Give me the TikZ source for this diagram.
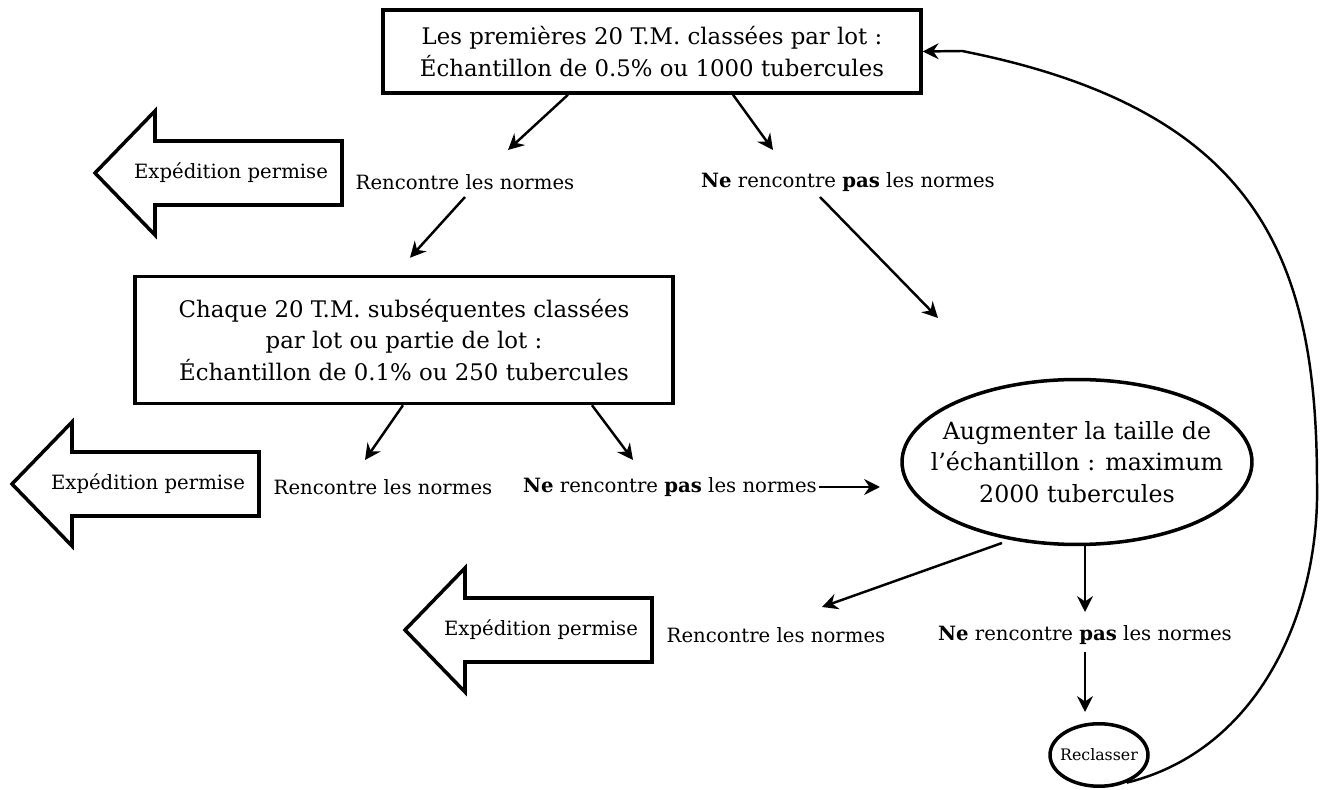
\documentclass[tikz,border=0pt]{standalone}
\usepackage{fontspec}
\setmainfont{DejaVu Serif}
\usetikzlibrary{arrows.meta,calc,shapes.geometric}
\begin{document}
\begin{tikzpicture}[x=0.02cm,y=-0.02cm,
  boxtext/.style={font=\fontsize{13}{18}\selectfont, align=center},
  rbox/.style={draw, line width=2pt, rectangle, boxtext, minimum width=10.76cm},
  small/.style={font=\fontsize{11.2}{13}\selectfont, inner sep=1pt},
  conn/.style={line width=1.4pt, -{Stealth[length=9pt,width=9pt,inset=3pt]}},
  shapeline/.style={line width=2pt, line join=miter},
  exparrow/.pic={
    \draw[shapeline] (0,0) -- (60,-62) -- (60,-32) -- (247,-32) -- (247,32) -- (60,32) -- (60,62) -- cycle;
    \node[small] (-t) at (136,0) {Expédition permise};
  }
]
\useasboundingbox (0,0) rectangle (1320,790);

% boxes
\node[rbox, minimum height=1.66cm] (b1) at (652,51.5) {Les premières 20 T.M. classées par lot~:\\Échantillon de 0.5\% ou 1000 tubercules};
\node[rbox, minimum height=2.54cm] (b2) at (404,340) {Chaque 20 T.M. subséquentes classées\\par lot ou partie de lot~:\\Échantillon de 0.1\% ou 250 tubercules};
\node[draw, ellipse, line width=2pt, boxtext, font=\fontsize{13.5}{18}\selectfont, minimum width=7cm, minimum height=3.3cm, inner xsep=-18pt, inner ysep=0pt] (ell) at (1077,462) {Augmenter la taille de\\l’échantillon~: maximum\\2000 tubercules};
\node[draw, ellipse, line width=2pt, font=\fontsize{9}{11}\selectfont, minimum width=1.96cm, minimum height=1.25cm, inner xsep=-3pt, inner ysep=0pt] (rec) at (1099,755) {Reclasser};

% shipping arrows
\pic (ex1) at (95,173) {exparrow};
\pic (ex2) at (12,484) {exparrow};
\pic (ex3) at (405,630) {exparrow};

% outcome texts
\node[small] (r1) at (465,182) {Rencontre les normes};
\node[small] (n1) at (848,182) {\textbf{Ne} rencontre \textbf{pas} les normes};
\node[small] (r2) at (383,487) {Rencontre les normes};
\node[small] (n2) at (670,487) {\textbf{Ne} rencontre \textbf{pas} les normes};
\node[small] (r3) at (776,635) {Rencontre les normes};
\node[small] (n3) at (1085,635) {\textbf{Ne} rencontre \textbf{pas} les normes};

% connectors
\draw[conn] ($(b1.south)+(-84,0)$) -- ($(r1)+(43,-32)$);
\draw[conn] ($(b1.south)+(81,0)$) -- ($(n1)+(-75,-32)$);
\draw[conn] ($(r1)+(0,15)$) -- ($(b2.north)+(6,-17)$);
\draw[conn] ($(n1)+(-28,15)$) -- ($(ell)+(-139,-144)$);
\draw[conn] ($(b2.south)+(-1,0)$) -- ($(r2)+(-18,-27)$);
\draw[conn] ($(b2.south)+(188,0)$) -- ($(n2)+(-37,-27)$);
\draw[conn] (n2.east) -- ($(ell)+(-197,25)$);
\draw[conn] ($(ell)+(-75,81)$) -- ($(r3)+(46,-28)$);
\draw[conn] (n3 |- ell.south) -- ($(n3)+(0,-23)$);
\draw[conn] ($(n3)+(0,17)$) -- ($(n3)+(0,77)$);
\draw[conn] (rec.-45) .. controls (1260,750) and (1320,610) .. (1317,483)
  .. controls (1317,260) and (1260,110) .. (962,51) -- (b1.east);
\end{tikzpicture}
\end{document}
